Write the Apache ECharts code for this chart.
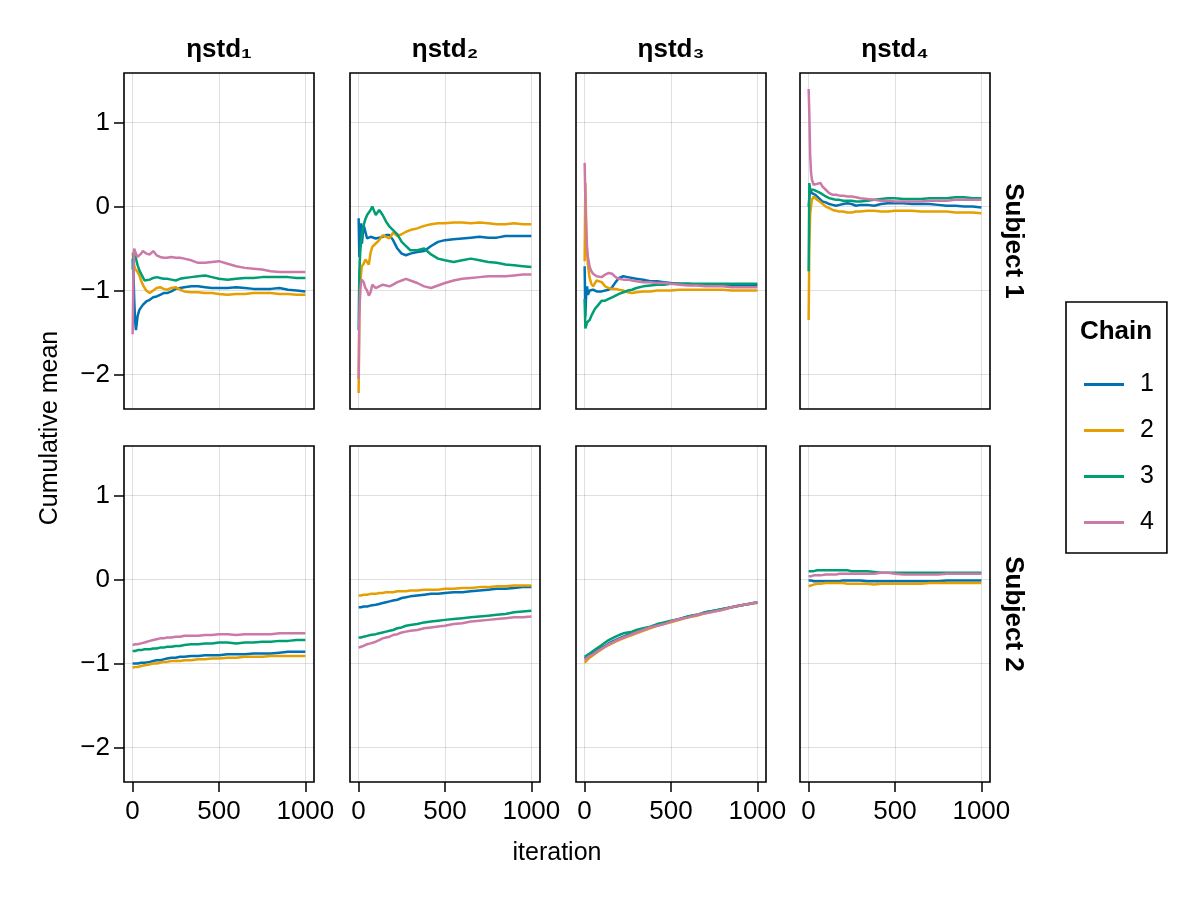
<!DOCTYPE html>
<html><head><meta charset="utf-8">
<script src="https://cdn.jsdelivr.net/npm/echarts@6/dist/echarts.min.js"></script>
<style>html,body{margin:0;padding:0;background:#fff}#c{width:1200px;height:900px}</style>
</head><body><div id="c"></div><script>
const iterations = [1, 5, 10, 15, 20, 30, 40, 50, 60, 70, 80, 100, 120, 140, 160, 180, 200, 225, 250, 275, 300, 340, 380, 420, 460, 500, 550, 600, 650, 700, 750, 800, 850, 900, 950, 1000];
const parameters = ['ηstd₁', 'ηstd₂', 'ηstd₃', 'ηstd₄'];
const subjects = ['Subject 1', 'Subject 2'];
const chains = ['1', '2', '3', '4'];
const xTicks = [0, 500, 1000];
const yTicks = [-2, -1, 0, 1];

// Subject 1
const s1e1c1 = [-0.62, -0.75, -1.10, -1.35, -1.47, -1.30, -1.23, -1.20, -1.17, -1.15, -1.13, -1.11, -1.08, -1.07, -1.05, -1.03, -1.03, -1.01, -0.98, -0.97, -0.96, -0.95, -0.95, -0.96, -0.97, -0.97, -0.97, -0.96, -0.97, -0.98, -0.98, -0.98, -0.97, -0.99, -1.00, -1.01];
const s1e1c2 = [-0.55, -0.62, -0.70, -0.74, -0.76, -0.78, -0.82, -0.88, -0.93, -0.97, -1.00, -1.03, -1.00, -0.97, -0.96, -0.98, -0.99, -0.97, -0.96, -0.99, -1.01, -1.02, -1.02, -1.03, -1.03, -1.04, -1.05, -1.04, -1.04, -1.03, -1.03, -1.03, -1.04, -1.04, -1.05, -1.05];
const s1e1c3 = [-0.75, -0.60, -0.52, -0.55, -0.62, -0.70, -0.76, -0.80, -0.84, -0.88, -0.89, -0.87, -0.85, -0.84, -0.85, -0.86, -0.86, -0.87, -0.88, -0.86, -0.85, -0.84, -0.83, -0.82, -0.84, -0.86, -0.87, -0.86, -0.85, -0.85, -0.84, -0.84, -0.84, -0.84, -0.85, -0.85];
const s1e1c4 = [-1.52, -0.90, -0.50, -0.53, -0.56, -0.60, -0.60, -0.56, -0.53, -0.52, -0.56, -0.57, -0.53, -0.58, -0.60, -0.61, -0.61, -0.60, -0.61, -0.61, -0.62, -0.64, -0.67, -0.67, -0.66, -0.65, -0.68, -0.71, -0.73, -0.74, -0.75, -0.77, -0.78, -0.78, -0.78, -0.78];

const s1e2c1 = [-0.14, -0.60, -0.30, -0.20, -0.44, -0.22, -0.30, -0.38, -0.40, -0.36, -0.35, -0.38, -0.37, -0.36, -0.34, -0.34, -0.40, -0.50, -0.56, -0.58, -0.56, -0.54, -0.53, -0.47, -0.42, -0.40, -0.39, -0.38, -0.37, -0.36, -0.37, -0.37, -0.35, -0.35, -0.35, -0.35];
const s1e2c2 = [-2.22, -1.30, -0.95, -0.80, -0.71, -0.68, -0.63, -0.66, -0.69, -0.55, -0.48, -0.44, -0.40, -0.34, -0.36, -0.38, -0.31, -0.35, -0.33, -0.30, -0.28, -0.26, -0.23, -0.21, -0.20, -0.20, -0.19, -0.19, -0.20, -0.19, -0.20, -0.21, -0.21, -0.20, -0.21, -0.21];
const s1e2c3 = [-1.47, -0.79, -0.55, -0.42, -0.33, -0.22, -0.15, -0.10, -0.12, -0.04, 0.00, -0.10, -0.04, -0.10, -0.18, -0.24, -0.28, -0.33, -0.42, -0.47, -0.52, -0.52, -0.50, -0.57, -0.62, -0.64, -0.66, -0.64, -0.62, -0.64, -0.66, -0.67, -0.69, -0.70, -0.71, -0.72];
const s1e2c4 = [-2.05, -1.30, -1.00, -0.90, -0.87, -0.90, -0.97, -1.00, -1.06, -1.02, -0.93, -0.97, -0.95, -0.93, -0.94, -0.95, -0.93, -0.90, -0.88, -0.86, -0.88, -0.91, -0.95, -0.97, -0.94, -0.91, -0.88, -0.86, -0.85, -0.84, -0.83, -0.83, -0.83, -0.82, -0.81, -0.81];

const s1e3c1 = [-0.71, -1.31, -1.03, -0.95, -1.05, -1.00, -1.02, -0.99, -1.00, -1.01, -1.02, -1.01, -1.00, -0.99, -0.96, -0.90, -0.85, -0.83, -0.84, -0.85, -0.86, -0.87, -0.89, -0.89, -0.90, -0.91, -0.92, -0.92, -0.93, -0.93, -0.93, -0.94, -0.94, -0.94, -0.94, -0.94];
const s1e3c2 = [-0.65, 0.28, -0.20, -0.55, -0.70, -0.85, -0.92, -0.95, -0.93, -0.88, -0.86, -0.90, -0.95, -0.97, -0.98, -0.98, -0.99, -1.00, -1.02, -1.03, -1.02, -1.01, -1.01, -1.00, -1.00, -1.00, -0.99, -0.99, -0.99, -0.99, -0.99, -0.99, -1.00, -1.00, -1.00, -1.00];
const s1e3c3 = [-1.10, -1.45, -1.42, -1.38, -1.40, -1.35, -1.30, -1.26, -1.22, -1.20, -1.17, -1.12, -1.12, -1.10, -1.08, -1.06, -1.04, -1.02, -1.00, -0.99, -0.97, -0.95, -0.94, -0.93, -0.93, -0.92, -0.92, -0.92, -0.92, -0.92, -0.92, -0.92, -0.92, -0.92, -0.92, -0.92];
const s1e3c4 = [0.52, 0.10, -0.30, -0.50, -0.60, -0.72, -0.77, -0.80, -0.81, -0.83, -0.84, -0.84, -0.81, -0.79, -0.80, -0.84, -0.86, -0.87, -0.87, -0.88, -0.89, -0.90, -0.90, -0.91, -0.91, -0.92, -0.93, -0.94, -0.94, -0.95, -0.95, -0.95, -0.96, -0.96, -0.96, -0.96];

const s1e4c1 = [0.00, 0.10, 0.20, 0.18, 0.16, 0.16, 0.14, 0.12, 0.10, 0.08, 0.06, 0.05, 0.03, 0.02, 0.01, 0.02, 0.03, 0.04, 0.03, 0.01, 0.02, 0.02, 0.01, 0.03, 0.04, 0.04, 0.04, 0.03, 0.03, 0.03, 0.02, 0.01, 0.01, 0.00, 0.00, -0.01];
const s1e4c2 = [-1.35, -0.50, -0.08, 0.00, 0.08, 0.12, 0.10, 0.08, 0.06, 0.05, 0.03, 0.00, -0.02, -0.04, -0.05, -0.06, -0.06, -0.07, -0.07, -0.06, -0.06, -0.05, -0.05, -0.06, -0.06, -0.05, -0.05, -0.05, -0.06, -0.06, -0.06, -0.06, -0.07, -0.07, -0.07, -0.08];
const s1e4c3 = [-0.77, 0.28, 0.20, 0.22, 0.21, 0.20, 0.20, 0.18, 0.17, 0.16, 0.15, 0.12, 0.10, 0.09, 0.08, 0.08, 0.07, 0.07, 0.07, 0.06, 0.06, 0.07, 0.08, 0.09, 0.10, 0.10, 0.09, 0.09, 0.09, 0.10, 0.10, 0.10, 0.11, 0.11, 0.10, 0.10];
const s1e4c4 = [1.40, 1.10, 0.60, 0.40, 0.32, 0.26, 0.24, 0.27, 0.29, 0.28, 0.24, 0.20, 0.16, 0.14, 0.14, 0.13, 0.13, 0.12, 0.12, 0.11, 0.10, 0.09, 0.08, 0.07, 0.07, 0.06, 0.06, 0.06, 0.06, 0.07, 0.07, 0.07, 0.08, 0.08, 0.08, 0.08];

// Subject 2
const s2e1c1 = [-1.00, -1.00, -1.00, -1.00, -1.00, -1.00, -0.99, -0.99, -0.99, -0.99, -0.98, -0.98, -0.97, -0.96, -0.96, -0.95, -0.94, -0.93, -0.93, -0.92, -0.92, -0.91, -0.91, -0.90, -0.90, -0.90, -0.89, -0.89, -0.89, -0.88, -0.88, -0.88, -0.87, -0.86, -0.86, -0.86];
const s2e1c2 = [-1.05, -1.05, -1.05, -1.04, -1.04, -1.04, -1.03, -1.03, -1.03, -1.02, -1.02, -1.01, -1.00, -1.00, -0.99, -0.98, -0.98, -0.97, -0.97, -0.97, -0.96, -0.96, -0.95, -0.95, -0.94, -0.94, -0.93, -0.93, -0.92, -0.92, -0.92, -0.91, -0.91, -0.91, -0.91, -0.91];
const s2e1c3 = [-0.85, -0.85, -0.85, -0.85, -0.84, -0.84, -0.84, -0.84, -0.84, -0.83, -0.83, -0.83, -0.82, -0.82, -0.81, -0.81, -0.80, -0.80, -0.79, -0.79, -0.78, -0.77, -0.77, -0.76, -0.76, -0.75, -0.75, -0.76, -0.75, -0.75, -0.74, -0.74, -0.73, -0.73, -0.72, -0.72];
const s2e1c4 = [-0.78, -0.78, -0.78, -0.77, -0.77, -0.77, -0.76, -0.76, -0.75, -0.75, -0.74, -0.73, -0.72, -0.71, -0.70, -0.70, -0.69, -0.69, -0.68, -0.68, -0.67, -0.67, -0.67, -0.66, -0.66, -0.65, -0.65, -0.66, -0.65, -0.65, -0.65, -0.65, -0.64, -0.64, -0.64, -0.64];

const s2e2c1 = [-0.33, -0.33, -0.33, -0.33, -0.33, -0.32, -0.32, -0.32, -0.31, -0.31, -0.30, -0.30, -0.29, -0.28, -0.27, -0.26, -0.25, -0.24, -0.22, -0.21, -0.20, -0.19, -0.18, -0.17, -0.17, -0.16, -0.15, -0.15, -0.14, -0.13, -0.12, -0.11, -0.11, -0.10, -0.09, -0.09];
const s2e2c2 = [-0.19, -0.19, -0.19, -0.19, -0.19, -0.18, -0.18, -0.18, -0.18, -0.17, -0.17, -0.17, -0.16, -0.16, -0.15, -0.15, -0.15, -0.14, -0.14, -0.14, -0.13, -0.13, -0.12, -0.12, -0.12, -0.11, -0.11, -0.10, -0.10, -0.09, -0.09, -0.08, -0.08, -0.07, -0.07, -0.07];
const s2e2c3 = [-0.69, -0.69, -0.69, -0.69, -0.68, -0.68, -0.68, -0.67, -0.67, -0.66, -0.66, -0.65, -0.64, -0.63, -0.62, -0.61, -0.60, -0.58, -0.57, -0.55, -0.54, -0.53, -0.51, -0.50, -0.49, -0.48, -0.47, -0.46, -0.45, -0.44, -0.43, -0.42, -0.41, -0.39, -0.38, -0.37];
const s2e2c4 = [-0.81, -0.81, -0.80, -0.80, -0.80, -0.79, -0.78, -0.77, -0.77, -0.76, -0.75, -0.74, -0.72, -0.70, -0.69, -0.68, -0.66, -0.65, -0.63, -0.62, -0.61, -0.60, -0.58, -0.57, -0.56, -0.55, -0.53, -0.52, -0.50, -0.49, -0.48, -0.47, -0.46, -0.45, -0.45, -0.44];

const s2e3c1 = [-0.94, -0.94, -0.93, -0.92, -0.91, -0.90, -0.89, -0.88, -0.87, -0.85, -0.84, -0.81, -0.79, -0.76, -0.74, -0.72, -0.70, -0.68, -0.66, -0.64, -0.62, -0.60, -0.57, -0.54, -0.52, -0.50, -0.47, -0.44, -0.42, -0.39, -0.37, -0.35, -0.33, -0.31, -0.29, -0.27];
const s2e3c2 = [-0.99, -0.98, -0.97, -0.96, -0.95, -0.93, -0.92, -0.90, -0.89, -0.87, -0.86, -0.83, -0.80, -0.78, -0.76, -0.74, -0.72, -0.70, -0.68, -0.66, -0.64, -0.61, -0.58, -0.55, -0.53, -0.51, -0.48, -0.45, -0.43, -0.40, -0.38, -0.36, -0.33, -0.31, -0.29, -0.28];
const s2e3c3 = [-0.92, -0.92, -0.91, -0.90, -0.89, -0.88, -0.87, -0.85, -0.84, -0.82, -0.81, -0.78, -0.75, -0.72, -0.70, -0.68, -0.66, -0.64, -0.63, -0.62, -0.60, -0.58, -0.56, -0.53, -0.51, -0.49, -0.47, -0.44, -0.42, -0.39, -0.37, -0.35, -0.33, -0.31, -0.29, -0.27];
const s2e3c4 = [-0.96, -0.95, -0.94, -0.93, -0.92, -0.91, -0.90, -0.89, -0.88, -0.86, -0.85, -0.82, -0.80, -0.77, -0.75, -0.73, -0.71, -0.69, -0.67, -0.65, -0.63, -0.60, -0.57, -0.55, -0.53, -0.50, -0.47, -0.45, -0.42, -0.40, -0.38, -0.36, -0.33, -0.31, -0.29, -0.27];

const s2e4c1 = [-0.01, -0.01, -0.01, -0.01, -0.02, -0.02, -0.02, -0.02, -0.02, -0.02, -0.02, -0.02, -0.02, -0.02, -0.02, -0.02, -0.01, -0.01, -0.01, -0.01, -0.01, -0.02, -0.02, -0.02, -0.02, -0.02, -0.02, -0.02, -0.02, -0.02, -0.02, -0.01, -0.01, -0.01, -0.01, -0.01];
const s2e4c2 = [-0.08, -0.08, -0.07, -0.07, -0.06, -0.06, -0.05, -0.05, -0.05, -0.05, -0.04, -0.04, -0.04, -0.04, -0.04, -0.04, -0.04, -0.05, -0.05, -0.05, -0.05, -0.05, -0.06, -0.05, -0.05, -0.05, -0.05, -0.05, -0.05, -0.04, -0.04, -0.04, -0.04, -0.04, -0.04, -0.04];
const s2e4c3 = [0.10, 0.10, 0.10, 0.10, 0.10, 0.10, 0.11, 0.11, 0.11, 0.11, 0.11, 0.11, 0.11, 0.11, 0.11, 0.11, 0.11, 0.11, 0.10, 0.10, 0.10, 0.10, 0.09, 0.08, 0.08, 0.08, 0.08, 0.08, 0.08, 0.08, 0.08, 0.08, 0.08, 0.08, 0.08, 0.08];
const s2e4c4 = [0.04, 0.04, 0.04, 0.04, 0.05, 0.05, 0.05, 0.05, 0.05, 0.05, 0.06, 0.06, 0.06, 0.06, 0.06, 0.07, 0.07, 0.07, 0.07, 0.07, 0.07, 0.07, 0.07, 0.08, 0.08, 0.07, 0.06, 0.06, 0.06, 0.06, 0.06, 0.07, 0.07, 0.07, 0.07, 0.07];

const panels = [
  [[s1e1c1, s1e1c2, s1e1c3, s1e1c4], [s1e2c1, s1e2c2, s1e2c3, s1e2c4], [s1e3c1, s1e3c2, s1e3c3, s1e3c4], [s1e4c1, s1e4c2, s1e4c3, s1e4c4]],
  [[s2e1c1, s2e1c2, s2e1c3, s2e1c4], [s2e2c1, s2e2c2, s2e2c3, s2e2c4], [s2e3c1, s2e3c2, s2e3c3, s2e3c4], [s2e4c1, s2e4c2, s2e4c3, s2e4c4]]
];

const colors = ['#0072B2', '#E69F00', '#009E73', '#CC79A7'];
const FONT = '"Liberation Sans", Arial, sans-serif';
const colLeft = [124, 350, 576, 800], colW = 190;
const rowTop = [73, 446], rowH = 336;

const grids = [], xAxes = [], yAxes = [], series = [];
for (let r = 0; r < 2; r++) {
  for (let c = 0; c < 4; c++) {
    const idx = grids.length;
    grids.push({ left: colLeft[c], top: rowTop[r], width: colW, height: rowH, show: true,
      borderColor: '#000', borderWidth: 1.6, backgroundColor: 'transparent', containLabel: false });
    xAxes.push({ type: 'value', gridIndex: idx, min: -49, max: 1050, position: 'bottom',
      axisLine: { show: false, onZero: false },
      axisTick: { show: r === 1, customValues: xTicks, length: 10, lineStyle: { color: '#000', width: 1.5 } },
      axisLabel: { show: r === 1, customValues: xTicks, fontSize: 26, color: '#000', fontFamily: FONT, margin: 17,
        formatter: v => String(v) },
      splitLine: { show: true, lineStyle: { color: 'rgba(0,0,0,0.12)', width: 1 } } });
    yAxes.push({ type: 'value', gridIndex: idx, min: -2.41, max: 1.59, position: 'left',
      axisLine: { show: false, onZero: false },
      axisTick: { show: c === 0, customValues: yTicks, length: 10, lineStyle: { color: '#000', width: 1.5 } },
      axisLabel: { show: c === 0, customValues: yTicks, fontSize: 26, color: '#000', fontFamily: FONT, margin: 14,
        formatter: v => String(v).replace('-', '\u2212') },
      splitLine: { show: true, lineStyle: { color: 'rgba(0,0,0,0.12)', width: 1 } } });
    for (let k = 0; k < 4; k++) {
      series.push({ type: 'line', name: chains[k], xAxisIndex: idx, yAxisIndex: idx,
        data: iterations.map((it, i) => [it, panels[r][c][k][i]]),
        symbol: 'none', showSymbol: false, color: colors[k],
        lineStyle: { width: 2.5, color: colors[k] }, emphasis: { disabled: true }, animation: false });
    }
  }
}

const txt = (text, x, y, size, bold, rot) => ({ type: 'text', x, y, rotation: rot || 0, silent: true,
  style: { text, fontSize: size, fontWeight: bold ? 'bold' : 'normal', fontFamily: FONT, fill: '#000',
    align: 'center', verticalAlign: 'middle', textAlign: 'center', textVerticalAlign: 'middle' } });

const graphic = [];
parameters.forEach((p, i) => graphic.push(txt(p, colLeft[i] + colW / 2, 50, 26, true)));
subjects.forEach((s, r) => graphic.push(txt(s, 1013, rowTop[r] + rowH / 2, 26, true, -Math.PI / 2)));
graphic.push(txt('Cumulative mean', 50, 428, 25, false, Math.PI / 2));
graphic.push(txt('iteration', 557, 853, 25, false));
graphic.push(txt('Chain', 1116, 332, 26, true));

const chart = echarts.init(document.getElementById('c'), null, { renderer: 'canvas' });
chart.setOption({
  animation: false,
  backgroundColor: '#fff',
  grid: grids, xAxis: xAxes, yAxis: yAxes, series,
  legend: { data: chains, orient: 'vertical', left: 1066, top: 302, selectedMode: false,
    icon: 'rect', itemWidth: 40, itemHeight: 3, itemGap: 21,
    borderColor: '#000', borderWidth: 1.6, padding: [70, 13, 18, 18],
    textStyle: { fontSize: 25, color: '#000', fontFamily: FONT, padding: [0, 0, 0, 11], lineHeight: 25 } },
  graphic
});
</script></body></html>
